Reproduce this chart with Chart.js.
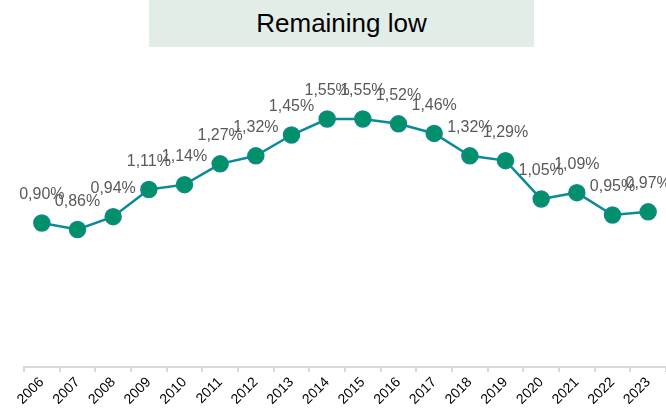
<!DOCTYPE html>
<html lang="en">
<head>
    <meta charset="UTF-8">
    <title>Remaining low</title>
    <style>
        body { margin: 0; background: #fff; }
        #wrap { position: relative; width: 666px; height: 413px; }
        #title {
            position: absolute; left: 149px; top: 0; width: 385px; height: 47px;
            background: #e2ede8; color: #000;
            font: 26px "Liberation Sans", Arial, sans-serif;
            display: flex; align-items: center; justify-content: center;
        }
        canvas { position: absolute; left: 0; top: 0; }
    </style>
</head>
<body>
<div id="wrap">
    <canvas id="myChart" width="666" height="413"></canvas>
    <div id="title">Remaining low</div>
</div>
<script src="https://cdn.jsdelivr.net/npm/chart.js"></script>
<script>
    var years = ['2006','2007','2008','2009','2010','2011','2012','2013','2014','2015','2016','2017','2018','2019','2020','2021','2022','2023']
    var rates = [0.90, 0.86, 0.94, 1.11, 1.14, 1.27, 1.32, 1.45, 1.55, 1.55, 1.52, 1.46, 1.32, 1.29, 1.05, 1.09, 0.95, 0.97]

    // value labels above each point, written with a decimal comma
    var pointLabels = {
        id: 'pointLabels',
        afterDatasetsDraw: function (chart) {
            var ctx = chart.ctx
            var meta = chart.getDatasetMeta(0)
            ctx.save()
            ctx.font = '16px "Liberation Sans", Arial, sans-serif'
            ctx.fillStyle = '#595959'
            ctx.textAlign = 'center'
            ctx.textBaseline = 'middle'
            meta.data.forEach(function (pt, i) {
                var txt = rates[i].toFixed(2).replace('.', ',') + '%'
                ctx.fillText(txt, pt.x, pt.y - 28)
            })
            ctx.restore()
        }
    }

    var ctx = document.getElementById('myChart')
    var myChart = new Chart(ctx, {
        type: 'line',
        data: {
            labels: years,
            datasets: [{
                data: rates,
                borderColor: '#0a8a9a',
                borderWidth: 2.5,
                pointBackgroundColor: '#00916b',
                pointBorderColor: '#108a88',
                pointBorderWidth: 1.5,
                pointRadius: 8,
                tension: 0,
                clip: false
            }]
        },
        options: {
            responsive: false,
            animation: false,
            layout: { autoPadding: false, padding: { top: 47, left: 24, right: 0, bottom: 3 } },
            plugins: {
                legend: { display: false },
                tooltip: { enabled: false }
            },
            scales: {
                x: {
                    offset: true,
                    // the rotated labels end at their tick, so no side padding is needed
                    afterFit: function (scale) {
                        scale.paddingLeft = 0
                        scale.paddingRight = 0
                    },
                    grid: {
                        offset: true,
                        drawOnChartArea: false,
                        drawTicks: true,
                        tickLength: 5,
                        color: '#d9d9d9',
                        lineWidth: 2
                    },
                    border: { color: '#d9d9d9', width: 2 },
                    ticks: {
                        minRotation: 45,
                        maxRotation: 45,
                        autoSkip: false,
                        padding: 2,
                        color: '#000',
                        font: { family: '"Liberation Sans", Arial, sans-serif', size: 14 }
                    }
                },
                y: {
                    display: false,
                    min: 0,
                    max: 2
                }
            }
        },
        plugins: [pointLabels]
    })
</script>
</body>
</html>
